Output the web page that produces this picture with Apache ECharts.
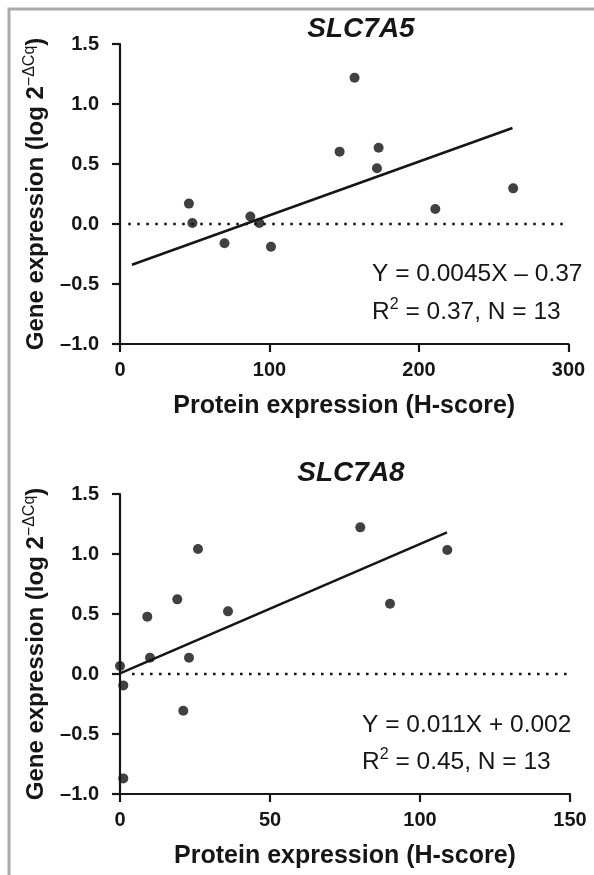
<!DOCTYPE html>
<html><head><meta charset="utf-8">
<script src="https://cdn.jsdelivr.net/npm/echarts@6/dist/echarts.min.js"></script>
<style>html,body{margin:0;padding:0;background:#fff}#c{width:594px;height:875px}</style>
</head><body><div id="c"></div>
<script>
const FONT = '"Liberation Sans", Arial, Helvetica, sans-serif';
const INK = '#161616';

// ---- data: top panel (SLC7A5) ----
const TOP_TITLE = 'SLC7A5';
const TOP_X = [46.1, 48.4, 69.9, 87.2, 93.2, 101.0, 146.9, 156.9, 173.0, 171.9, 210.9, 263.0];
const TOP_Y = [0.17, 0.008, -0.16, 0.062, 0.008, -0.19, 0.603, 1.219, 0.636, 0.464, 0.125, 0.297];
const TOP_FIT_X = [8, 262.5];
const TOP_FIT_Y = [-0.34, 0.80];
const TOP_ZERO_X = [5.5, 300];
const TOP_X_TICKS = [0, 100, 200, 300];
const TOP_EQ = 'Y = 0.0045X – 0.37';
const TOP_R2 = '0.37';
const TOP_N = '13';

// ---- data: bottom panel (SLC7A8) ----
const BOT_TITLE = 'SLC7A8';
const BOT_X = [0, 1.1, 1.1, 9.1, 10.0, 19.1, 21.1, 23.0, 26.0, 36.0, 80.1, 90.0, 109.1];
const BOT_Y = [0.067, -0.095, -0.87, 0.478, 0.136, 0.622, -0.306, 0.136, 1.042, 0.522, 1.222, 0.586, 1.033];
const BOT_FIT_X = [0, 109];
const BOT_FIT_Y = [0.005, 1.18];
const BOT_ZERO_X = [4, 150];
const BOT_X_TICKS = [0, 50, 100, 150];
const BOT_EQ = 'Y = 0.011X + 0.002';
const BOT_R2 = '0.45';
const BOT_N = '13';

// ---- shared axis ----
const Y_TICKS = [-1.0, -0.5, 0.0, 0.5, 1.0, 1.5];
const X_NAME = 'Protein expression (H-score)';
const Y_NAME_MAIN = 'Gene expression (log 2';
const Y_NAME_SUP = '−ΔCq';
const Y_NAME_END = ')';

const zip = (xs, ys) => xs.map((x, i) => [x, ys[i]]);

function xAx(gi, ticks) {
  return {
    type: 'value', gridIndex: gi,
    min: ticks[0], max: ticks[ticks.length - 1], interval: ticks[1] - ticks[0],
    name: X_NAME, nameLocation: 'middle', nameGap: 50,
    nameTextStyle: { fontFamily: FONT, fontWeight: 'bold', fontSize: 25, color: INK },
    axisLine: { onZero: false, lineStyle: { color: INK, width: 2.2 } },
    axisTick: { length: 8, lineStyle: { color: INK, width: 2.2 } },
    axisLabel: { margin: 16, fontFamily: FONT, fontWeight: 'bold', fontSize: 20, color: INK },
    splitLine: { show: false }
  };
}
function yAx(gi) {
  return {
    type: 'value', gridIndex: gi,
    min: Y_TICKS[0], max: Y_TICKS[Y_TICKS.length - 1], interval: Y_TICKS[1] - Y_TICKS[0],
    name: '{a|' + Y_NAME_MAIN + '}{s|' + Y_NAME_SUP + '}{a|' + Y_NAME_END + '}',
    nameLocation: 'middle', nameGap: 70,
    nameTextStyle: {
      rich: {
        a: { fontFamily: FONT, fontWeight: 'bold', fontSize: 24, color: INK, lineHeight: 28 },
        s: { fontFamily: FONT, fontWeight: 'normal', fontSize: 16, color: INK, verticalAlign: 'top', lineHeight: 16 }
      }
    },
    axisLine: { onZero: false, lineStyle: { color: INK, width: 2.2 } },
    axisTick: { length: 8, lineStyle: { color: INK, width: 2.2 } },
    axisLabel: {
      margin: 21, fontFamily: FONT, fontWeight: 'bold', fontSize: 20, color: INK,
      formatter: v => v.toFixed(1).replace('-', '–')
    },
    splitLine: { show: false }
  };
}
function panelSeries(i, xs, ys, fx, fy, zx) {
  return [
    { type: 'line', xAxisIndex: i, yAxisIndex: i, data: zip(zx, [0, 0]), showSymbol: false, silent: true,
      lineStyle: { color: INK, width: 2.6, type: [2.6, 6.4] }, z: 1 },
    { type: 'line', xAxisIndex: i, yAxisIndex: i, data: zip(fx, fy), showSymbol: false, silent: true,
      lineStyle: { color: INK, width: 2.6 }, z: 2 },
    { type: 'scatter', xAxisIndex: i, yAxisIndex: i, data: zip(xs, ys), symbolSize: 10, clip: false,
      itemStyle: { color: '#111' }, z: 3 }
  ];
}
function annot(x, y1, y2, eq, r2, n) {
  return [
    { type: 'text', x: x, y: y1, style: { text: eq, fontFamily: FONT, fontSize: 24.5, fill: INK, align: 'left', verticalAlign: 'middle' } },
    { type: 'text', x: x, y: y2, style: {
        text: '{n|R}{s|2}{n| = ' + r2 + ', N = ' + n + '}',
        fontFamily: FONT, fontSize: 24.5, fill: INK, align: 'left', verticalAlign: 'middle',
        rich: {
          n: { fontFamily: FONT, fontSize: 24.5, fill: INK, lineHeight: 30 },
          s: { fontFamily: FONT, fontSize: 16, fill: INK, verticalAlign: 'top', lineHeight: 16 }
        } } }
  ];
}
function titleText(x, y, t) {
  return { type: 'text', x: x, y: y, style: { text: t, fontFamily: FONT, fontSize: 28, fontWeight: 'bold', fontStyle: 'italic', fill: INK, align: 'center', verticalAlign: 'middle' } };
}

const chart = echarts.init(document.getElementById('c'), null, { renderer: 'canvas' });
chart.setOption({
  animation: false,
  backgroundColor: '#fff',
  grid: [
    { left: 120, top: 44, width: 448.5, height: 300 },
    { left: 120, top: 494, width: 450, height: 300 }
  ],
  xAxis: [xAx(0, TOP_X_TICKS), xAx(1, BOT_X_TICKS)],
  yAxis: [yAx(0), yAx(1)],
  series: [].concat(
    panelSeries(0, TOP_X, TOP_Y, TOP_FIT_X, TOP_FIT_Y, TOP_ZERO_X),
    panelSeries(1, BOT_X, BOT_Y, BOT_FIT_X, BOT_FIT_Y, BOT_ZERO_X)
  ),
  graphic: [
    { type: 'polyline', shape: { points: [[9, 880], [9, 9], [600, 9]] }, style: { stroke: '#aaaaaa', lineWidth: 3, fill: null }, silent: true },
    titleText(361, 29, TOP_TITLE),
    titleText(351, 473, BOT_TITLE)
  ].concat(
    annot(372, 274, 312, TOP_EQ, TOP_R2, TOP_N),
    annot(362, 725, 762, BOT_EQ, BOT_R2, BOT_N)
  )
});
</script>
</body></html>
